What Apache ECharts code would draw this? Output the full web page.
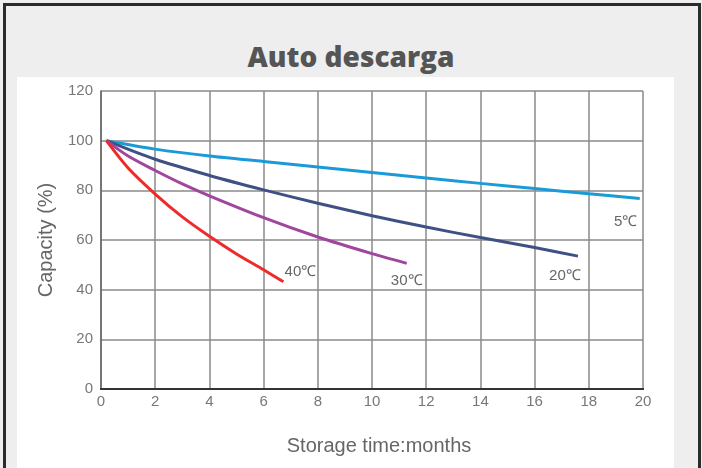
<!DOCTYPE html>
<html>
<head>
<meta charset="utf-8">
<script src="https://cdn.jsdelivr.net/npm/echarts@6/dist/echarts.min.js"></script>
<style>
html,body{margin:0;padding:0;background:#eeeeee;}
#frame{position:absolute;left:3px;top:3px;width:692px;height:480px;border:3px solid #2b2b2b;box-sizing:content-box;}
#panel{position:absolute;left:17px;top:77px;width:657px;height:400px;background:#ffffff;}
#title{position:absolute;left:0;top:37px;width:702px;text-align:center;font-family:"Open Sans",sans-serif;font-weight:800;font-size:28px;color:#555555;}
#chart{position:absolute;left:0;top:0;width:702px;height:468px;}
</style>
</head>
<body>
<div id="frame"></div>
<div id="panel"></div>
<div id="title">Auto descarga</div>
<div id="chart"></div>
<script>
const title = "Auto descarga";
const xTicks = [0,2,4,6,8,10,12,14,16,18,20];
const yTicks = [0,20,40,60,80,100,120];

const months5  = [0.2, 2, 4, 6, 8, 10, 12, 14, 16, 18, 19.88];
const cap5     = [100, 96.6, 93.8, 91.6, 89.4, 87.2, 85.0, 82.8, 80.7, 78.6, 76.7];
const months20 = [0.2, 2, 4, 6, 8, 10, 12, 14, 16, 17.6];
const cap20    = [100, 92.5, 86.0, 80.2, 74.8, 69.8, 65.2, 61.0, 57.0, 53.5];
const months30 = [0.2, 1, 2, 3, 4, 6, 8, 10, 11.28];
const cap30    = [100, 93.8, 88.0, 82.6, 77.8, 69.0, 61.2, 54.5, 50.6];
const months40 = [0.2, 1, 2, 3, 4, 5, 6, 6.73];
const cap40    = [100, 89.0, 78.5, 69.3, 61.5, 54.4, 48.0, 43.2];

const seriesNames = ["5℃", "20℃", "30℃", "40℃"];
const seriesColors = ["#1b9ad8", "#3e5084", "#a0469c", "#ee2a2a"];
const labelOffsets = [[-14, 23], [-13, 20], [0, 18], [17, -10]];

function pairs(xs, ys){ return xs.map((x,i)=>[x, ys[i]]); }

const allData = [pairs(months5,cap5), pairs(months20,cap20), pairs(months30,cap30), pairs(months40,cap40)];
const fam = "'Liberation Sans', Arial, sans-serif";

const series = allData.map((d, si) => ({
  name: seriesNames[si],
  type: 'line',
  smooth: 0.3,
  symbol: 'none',
  lineStyle: {color: seriesColors[si], width: 3},
  itemStyle: {color: seriesColors[si]},
  endLabel: {
    show: true, formatter: seriesNames[si], color: '#666666',
    fontFamily: fam, fontSize: 15,
    distance: 0, align: 'center', verticalAlign: 'middle',
    offset: labelOffsets[si]
  },
  data: d,
  z: 3
}));

const chart = echarts.init(document.getElementById('chart'), null, {renderer: 'canvas'});
chart.setOption({
  animation: false,
  backgroundColor: 'transparent',
  grid: {left: 101, right: 59, top: 91, bottom: 79},
  xAxis: [{
    type: 'value', min: 0, max: 20, interval: 2,
    name: 'Storage time:months', nameLocation: 'middle', nameGap: 47,
    nameTextStyle: {color: '#666666', fontSize: 20, fontFamily: fam, padding: [0, 0, 0, 14]},
    axisLine: {show: true, onZero: false, lineStyle: {color: '#222222', width: 2}},
    axisTick: {show: false},
    axisLabel: {color: '#777777', fontSize: 15, margin: 5, fontFamily: fam,
      formatter: v => xTicks.includes(v) ? String(v) : ''},
    splitLine: {show: true, lineStyle: {color: '#8a8a8a', width: 1.5}}
  }, {
    type: 'value', min: 0, max: 20, position: 'top',
    axisLine: {show: true, lineStyle: {color: '#333333', width: 2}},
    axisTick: {show: false}, axisLabel: {show: false}, splitLine: {show: false}
  }],
  yAxis: {
    type: 'value', min: 0, max: 120, interval: 20,
    name: 'Capacity (%)', nameLocation: 'middle', nameGap: 45, nameRotate: 90,
    nameTextStyle: {color: '#666666', fontSize: 20, fontFamily: fam},
    axisLine: {show: true, lineStyle: {color: '#666666', width: 1.5}},
    axisTick: {show: false},
    axisLabel: {color: '#777777', fontSize: 15, margin: 8, fontFamily: fam,
      formatter: v => yTicks.includes(v) ? String(v) : ''},
    splitLine: {show: true, lineStyle: {color: '#8a8a8a', width: 1.5}}
  },
  series: series
});
</script>
</body>
</html>
